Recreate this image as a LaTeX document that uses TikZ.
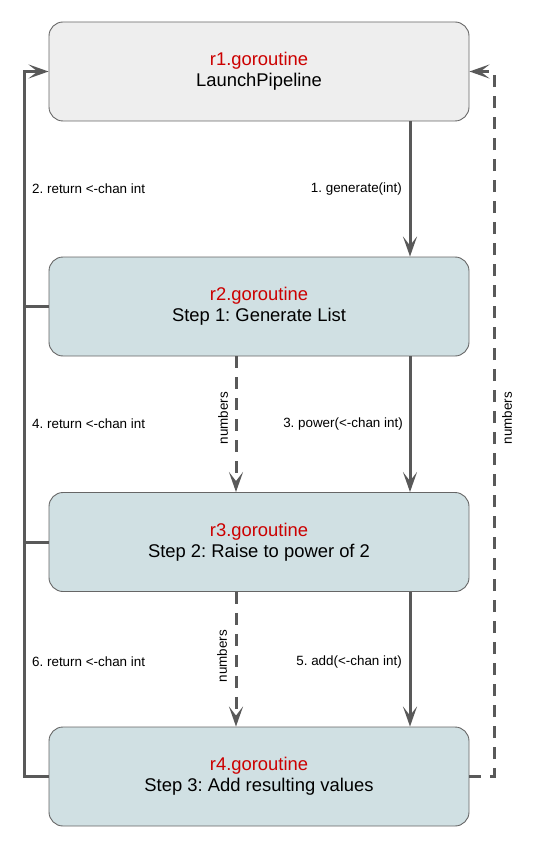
\documentclass[tikz,border=0pt]{standalone}
\usepackage{fontspec}
\setmainfont{Liberation Sans}
\frenchspacing
\usetikzlibrary{arrows.meta}
\definecolor{linec}{HTML}{595959}
\definecolor{boxline}{HTML}{666666}
\definecolor{boxgray}{HTML}{EEEEEE}
\definecolor{boxblue}{HTML}{D0E0E3}
\definecolor{gored}{HTML}{CC0000}
\tikzset{
  gobox/.style={rectangle, rounded corners=14pt, draw=boxline, line width=0.9pt,
    minimum width=420pt, minimum height=99pt, inner sep=0pt, align=center,
    font=\fontsize{18.4}{21}\selectfont},
  conn/.style={draw=linec, line width=3pt},
  dconn/.style={conn, dash pattern=on 12pt off 9pt},
  arr/.style={-{Stealth[length=20pt,width=14pt,inset=9pt]}},
  lbl/.style={font=\fontsize{13.4}{15}\selectfont, inner sep=0pt},
}
\begin{document}
\begin{tikzpicture}[x=1pt,y=-1pt]
\useasboundingbox (0,0) rectangle (535,850);
\node[gobox, fill=boxgray] (r1) at (259,71.5) {\textcolor{gored}{r1.goroutine}\\LaunchPipeline};
\node[gobox, fill=boxblue] (r2) at (259,306.5) {\textcolor{gored}{r2.goroutine}\\Step 1: Generate List};
\node[gobox, fill=boxblue] (r3) at (259,542) {\textcolor{gored}{r3.goroutine}\\Step 2: Raise to power of 2};
\node[gobox, fill=boxblue] (r4) at (259,776.5) {\textcolor{gored}{r4.goroutine}\\Step 3: Add resulting values};

\coordinate (sx) at (410,0);
\coordinate (dx) at (236,0);
\coordinate (lx) at (24,0);
\coordinate (rx) at (494,0);

% solid calls
\draw[conn,arr] (r1.south -| sx) -- (r2.north -| sx);
\draw[conn,arr] (r2.south -| sx) -- (r3.north -| sx);
\draw[conn,arr] (r3.south -| sx) -- (r4.north -| sx);
% dashed numbers
\draw[dconn,arr] (r2.south -| dx) -- (r3.north -| dx);
\draw[dconn,arr] (r3.south -| dx) -- (r4.north -| dx);
% left returns
\draw[conn,arr] (r4.west) -- (r4.west -| lx) -- (r1.west -| lx) -- (r1.west);
\draw[conn] (r2.west) -- (r2.west -| lx);
\draw[conn] (r3.west) -- (r3.west -| lx);
% right dashed
\draw[dconn,arr] (r4.east) -- (r4.east -| rx) -- (r1.east -| rx) -- (r1.east);

% labels
\node[lbl, anchor=west] (l2) at (32,189) {2. return <-chan int};
\node[lbl, anchor=west] (l4) at (32,424) {4. return <-chan int};
\node[lbl, anchor=west] (l6) at (32,662) {6. return <-chan int};
\node[lbl, anchor=east] (l1) at (402,189) {1. generate(int)};
\node[lbl, anchor=east] (l3) at (403,424) {3. power(<-chan int)};
\node[lbl, anchor=east] (l5) at (402,662) {5. add(<-chan int)};
\node[lbl, rotate=90] (n1) at (223,418) {numbers};
\node[lbl, rotate=90] (n2) at (222,656) {numbers};
\node[lbl, rotate=90] (n3) at (507,418) {numbers};
\end{tikzpicture}
\end{document}
